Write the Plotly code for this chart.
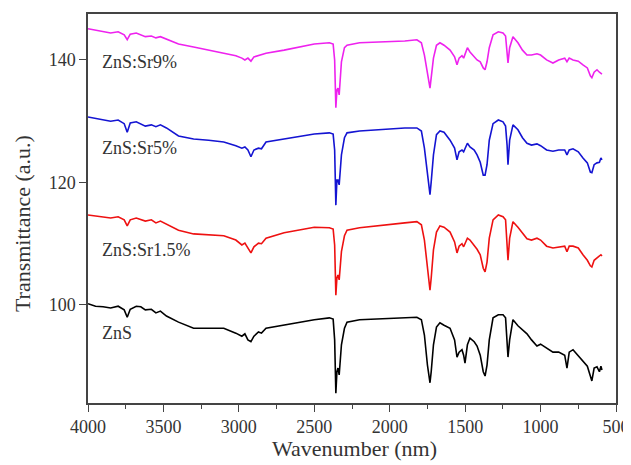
import plotly.graph_objects as go

wavenumber = [4000, 3950, 3900, 3850, 3800, 3760, 3740, 3720, 3680, 3650,
              3620, 3580, 3550, 3520, 3480, 3400, 3300, 3200, 3100, 3020,
              2980, 2960, 2940, 2920, 2900, 2870, 2850, 2820, 2700, 2600,
              2500, 2400, 2375, 2365, 2357, 2350, 2343, 2335, 2320, 2300,
              2283, 2200, 2100, 2000, 1900, 1820, 1790, 1770, 1750, 1740,
              1733, 1725, 1710, 1690, 1667, 1640, 1600, 1570, 1554, 1540,
              1521, 1510, 1501, 1485, 1468, 1440, 1421, 1400, 1380, 1368,
              1355, 1340, 1315, 1280, 1249, 1232, 1222, 1216, 1205, 1183,
              1150, 1120, 1090, 1060, 1024, 1000, 960, 918, 880, 840,
              825, 810, 785, 750, 719, 690, 670, 660, 645, 626,
              610, 600, 593]

zns = [100.2, 99.8, 99.7, 99.5, 99.8, 99.2, 98.0, 99.3, 99.8, 99.7,
       99.2, 99.3, 98.7, 99.0, 98.2, 97.2, 96.2, 96.2, 96.2, 95.4,
       94.9, 95.3, 94.3, 94.0, 94.9, 95.6, 95.4, 96.2, 96.7, 97.2,
       97.6, 97.9, 97.7, 94.3, 85.6, 89.1, 89.7, 88.6, 93.5, 96.2,
       97.2, 97.6, 97.7, 97.9, 98.0, 98.0, 97.6, 95.1, 90.2, 88.1,
       87.3, 89.1, 93.5, 96.4, 97.1, 96.7, 96.2, 94.3, 91.5, 92.3,
       92.7, 91.8, 90.5, 93.5, 94.6, 94.0, 93.3, 91.8, 89.1, 88.4,
       90.2, 94.3, 97.9, 98.4, 98.4, 97.9, 94.3, 91.5, 94.3, 97.6,
       96.6, 95.9, 95.3, 94.3, 93.3, 93.6, 93.0, 92.3, 92.3, 91.8,
       89.7, 92.3, 92.7, 91.7, 91.0, 90.0, 88.4, 87.6, 89.7, 89.9,
       89.1, 90.0, 89.4]

zns_sr15 = [114.7, 114.5, 114.4, 114.2, 114.4, 113.9, 112.9, 113.9, 114.2, 114.0,
            113.7, 113.9, 113.4, 113.7, 113.2, 112.2, 111.6, 111.4, 111.3, 110.6,
            109.8, 110.1, 109.3, 108.5, 109.5, 110.1, 110.0, 110.9, 111.8, 112.2,
            112.7, 112.6, 112.4, 109.8, 101.6, 104.4, 104.9, 104.1, 108.7, 111.3,
            112.2, 112.6, 112.9, 113.1, 113.4, 113.6, 113.1, 110.6, 106.0, 103.6,
            102.4, 104.4, 109.0, 111.9, 112.9, 112.7, 111.9, 110.3, 108.5, 109.6,
            110.0, 109.5, 110.1, 110.9, 110.6, 109.8, 109.1, 108.2, 106.0, 105.4,
            107.0, 110.9, 113.9, 114.7, 114.4, 113.9, 110.6, 107.3, 110.9, 113.6,
            112.7, 111.8, 110.8, 110.6, 110.9, 110.6, 109.6, 109.3, 109.5, 109.6,
            108.7, 109.6, 109.6, 109.3, 108.2, 107.3, 106.4, 106.2, 107.3, 107.7,
            108.0, 108.2, 108.0]

zns_sr5 = [130.7, 130.5, 130.2, 130.0, 130.2, 129.6, 128.2, 129.7, 129.9, 129.6,
           129.2, 129.4, 129.1, 129.4, 128.9, 127.6, 127.1, 126.9, 126.6, 126.0,
           125.6, 125.8, 125.3, 124.2, 125.3, 125.6, 125.5, 126.6, 127.1, 127.4,
           127.9, 128.1, 127.9, 125.3, 116.3, 120.4, 120.4, 119.6, 124.5, 127.3,
           128.1, 128.4, 128.6, 128.7, 128.9, 128.9, 128.4, 125.6, 121.2, 118.8,
           118.0, 120.1, 124.5, 127.8, 128.4, 128.2, 126.9, 125.6, 123.7, 125.0,
           125.3, 125.0, 125.6, 126.4, 125.8, 125.3, 124.5, 123.3, 121.2, 121.2,
           122.9, 126.9, 129.6, 130.2, 129.9, 129.2, 126.1, 122.9, 126.9, 129.4,
           128.6, 127.3, 126.4, 126.1, 126.3, 126.0, 125.3, 125.1, 125.3, 125.3,
           124.5, 125.3, 125.5, 125.0, 124.0, 123.2, 121.7, 121.6, 122.9, 123.2,
           123.3, 124.0, 123.7]

zns_sr9 = [145.1, 144.9, 144.6, 144.4, 144.6, 144.1, 143.3, 144.2, 144.4, 144.1,
           143.8, 143.9, 143.6, 143.8, 143.4, 142.6, 142.1, 141.6, 141.1, 140.7,
           140.3, 140.0, 140.3, 139.8, 140.5, 140.7, 140.8, 141.1, 141.6, 142.1,
           142.6, 142.8, 142.6, 140.0, 132.2, 135.1, 135.4, 134.3, 139.7, 142.0,
           142.4, 142.8, 142.9, 142.9, 143.1, 143.3, 142.8, 140.8, 137.6, 135.9,
           135.4, 137.1, 140.3, 142.4, 142.8, 142.4, 141.6, 140.5, 139.2, 140.3,
           140.7, 140.3, 141.0, 142.0, 141.3, 140.5, 140.0, 139.7, 138.7, 138.4,
           139.7, 142.0, 144.1, 144.6, 144.4, 143.9, 141.6, 139.5, 142.0, 143.8,
           142.8, 141.6, 140.8, 140.8, 141.0, 140.8, 140.0, 139.5, 140.0, 140.3,
           139.7, 140.3, 140.0, 139.8, 139.2, 138.7, 137.4, 137.1, 138.0, 138.4,
           138.0, 137.9, 137.7]

series_names = ["ZnS", "ZnS:Sr1.5%", "ZnS:Sr5%", "ZnS:Sr9%"]
series_values = [zns, zns_sr15, zns_sr5, zns_sr9]
series_colors = ["#000000", "#ee1111", "#1414d2", "#ee22ee"]
label_x = [3920, 3920, 3920, 3920]
label_y = [95.4, 109.0, 125.6, 139.7]

x_tickvals = [4000, 3500, 3000, 2500, 2000, 1500, 1000, 500]
y_tickvals = [100, 120, 140]

FONT = "Liberation Serif"
TXT = "#333333"

fig = go.Figure()
for name, vals, col in zip(series_names, series_values, series_colors):
    fig.add_trace(go.Scatter(x=wavenumber, y=vals, mode="lines", name=name,
                             line=dict(color=col, width=1.6), showlegend=False))

for name, lx, ly in zip(series_names, label_x, label_y):
    fig.add_annotation(x=lx, y=ly, text=name, showarrow=False, xanchor="left",
                       yanchor="middle",
                       font=dict(family=FONT, size=18, color=TXT))

# axis titles
fig.add_annotation(xref="paper", yref="paper", x=-0.125, y=0.46,
                   text="Transmittance (a.u.)", textangle=-90, showarrow=False,
                   xanchor="center", yanchor="middle",
                   font=dict(family=FONT, size=22, color=TXT))
fig.add_annotation(xref="paper", yref="paper", x=0.505, y=-0.118,
                   text="Wavenumber (nm)", showarrow=False,
                   xanchor="center", yanchor="middle",
                   font=dict(family=FONT, size=22, color=TXT))

axis_common = dict(showline=True, mirror=True, linecolor="#444444", linewidth=1.5,
                   ticks="outside", ticklen=7, tickwidth=1.3, tickcolor="#444444",
                   showgrid=False, zeroline=False, automargin=False,
                   tickfont=dict(family=FONT, size=18, color=TXT))

fig.update_xaxes(range=[4000, 500], tickvals=x_tickvals,
                 minor=dict(dtick=250, ticks="outside", ticklen=4, tickwidth=1.2,
                            tickcolor="#444444"),
                 **axis_common)
fig.update_yaxes(range=[84, 147.5], tickvals=y_tickvals, **axis_common)

# page body has an 8px margin, so the figure is sized/offset to compensate
fig.update_layout(width=623, height=457, plot_bgcolor="white", paper_bgcolor="white",
                  margin=dict(l=80, r=15, t=6, b=62))

fig.write_html("out.html")
